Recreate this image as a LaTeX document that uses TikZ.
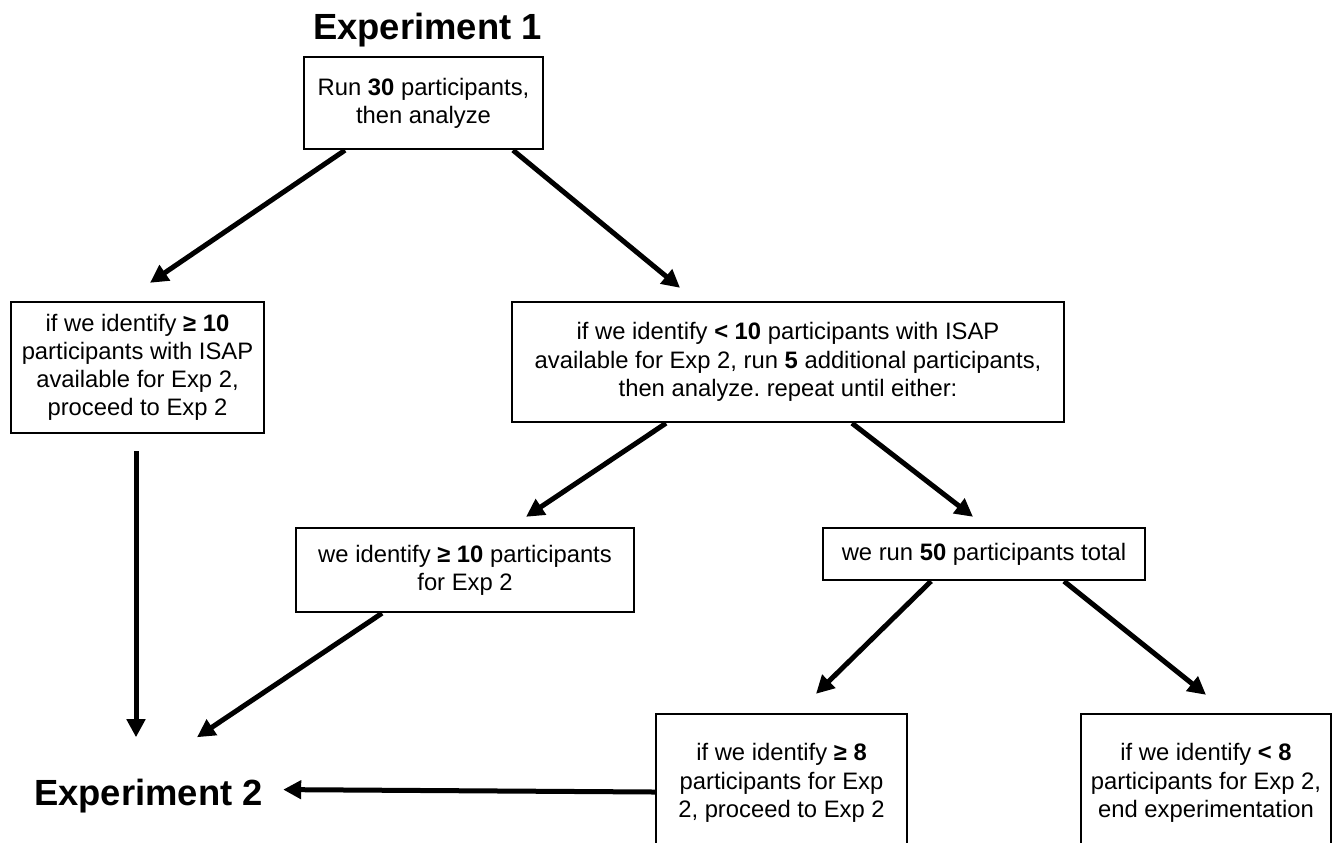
\documentclass[tikz,border=0pt]{standalone}
\usepackage{fontspec}
\setmainfont{Liberation Sans}
\usetikzlibrary{calc,arrows.meta}
\newcommand{\BoxFont}{\frenchspacing\fontsize{11.9}{14.1}\selectfont}
\newcommand{\TitleFont}{\bfseries\fontsize{18.2}{20}\selectfont}

\begin{document}
\begin{tikzpicture}[x=0.5pt,y=-0.5pt,
  flowBox/.style={draw,line width=1.2pt,align=center,inner sep=0pt,font=\BoxFont},
  flowTitle/.style={inner sep=0pt,font=\TitleFont},
  flowArrow/.style={-{Triangle[length=9pt,width=9pt]},line width=2.5pt}]
\useasboundingbox (0,0) rectangle (1336,842);
% titles
\node[flowTitle,anchor=base] (exp1) at (427.5,39) {Experiment 1};
\node[flowTitle,anchor=base] (exp2) at (148.5,805) {Experiment 2};
% boxes
\node[flowBox,minimum width=119.5pt,minimum height=46pt] (run) at (423.5,103)
  {Run \textbf{30} participants,\\then analyze};
\node[flowBox,minimum width=126.5pt,minimum height=65.5pt] (geTen) at (137.5,367.5)
  {if we identify \textbf{≥ 10}\\participants with ISAP\\available for Exp 2,\\proceed to Exp 2};
\node[flowBox,minimum width=276pt,minimum height=60pt] (ltTen) at (788,362)
  {if we identify \textbf{< 10} participants with ISAP\\available for Exp 2, run \textbf{5} additional participants,\\then analyze. repeat until either:};
\node[flowBox,minimum width=169pt,minimum height=42pt] (reachTen) at (465,570)
  {we identify \textbf{≥ 10} participants\\for Exp 2};
\node[flowBox,minimum width=161pt,minimum height=26pt] (runFifty) at (984,554)
  {we run \textbf{50} participants total};
\node[flowBox,minimum width=125.5pt,minimum height=69pt] (geEight) at (781.5,783)
  {if we identify \textbf{≥ 8}\\participants for Exp\\2, proceed to Exp 2};
\node[flowBox,minimum width=125pt,minimum height=69pt] (ltEight) at (1206,783)
  {if we identify \textbf{< 8}\\participants for Exp 2,\\end experimentation};
% arrows
\draw[flowArrow] ($(run.south)+(-78.5,0)$) -- ($(geTen.north)+(12.5,-18)$);
\draw[flowArrow] ($(run.south)+(89.5,0)$) -- ($(ltTen.north)+(-108,-13)$);
\draw[flowArrow] ($(geTen.south)+(-1.5,17)$) -- ($(exp2.north)+(-12.5,-41)$);
\draw[flowArrow] ($(reachTen.south)+(-83,0)$) -- ($(exp2.north)+(48.5,-41)$);
\draw[flowArrow] ($(ltTen.south)+(-122,0)$) -- ($(reachTen.north)+(61,-10)$);
\draw[flowArrow] ($(ltTen.south)+(64,0)$) -- ($(runFifty.north)+(-11,-10)$);
\draw[flowArrow] ($(runFifty.south)+(-53,0)$) -- ($(geEight.north)+(34.5,-19)$);
\draw[flowArrow] ($(runFifty.south)+(80,0)$) -- ($(ltEight.north)+(0,-18)$);
\draw[flowArrow] ($(geEight.west)+(0,9)$) -- ($(exp2.east)+(20,-6)$);
\end{tikzpicture}
\end{document}
